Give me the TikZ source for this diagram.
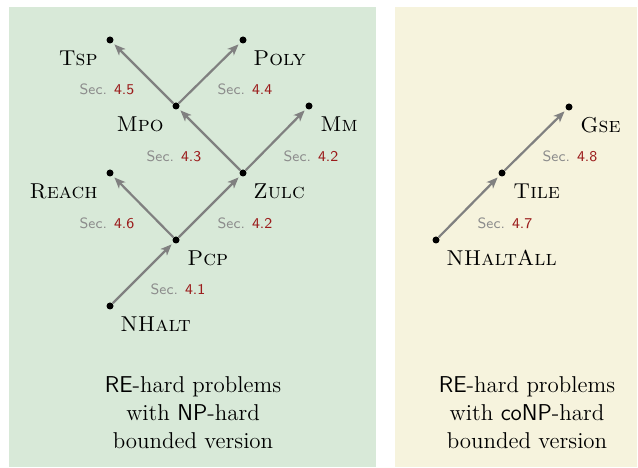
\documentclass[tikz,border=0pt]{standalone}
\usetikzlibrary{arrows.meta}
\definecolor{bgleft}{RGB}{216,233,216}
\definecolor{bgright}{RGB}{246,243,221}
\definecolor{secred}{RGB}{155,27,27}
\definecolor{secgray}{RGB}{140,140,140}
\definecolor{arrgray}{RGB}{128,128,128}
\begin{document}
\begin{tikzpicture}[x=0.5bp,y=-0.5bp,
  dot/.style={circle,fill=black,inner sep=0pt,minimum size=3.5bp},
  red/.style={draw=arrgray,line width=1.1bp,-{Stealth[length=5.5bp,width=4.5bp,inset=1.5bp]},shorten >=1.2bp},
  prob/.style={inner sep=0pt,font=\fontsize{10.8}{12}\selectfont},
  lprob/.style={prob,anchor=base east},
  rprob/.style={prob,anchor=base west},
  sec/.style={inner sep=0pt,anchor=base,font=\sffamily\fontsize{7.5}{9}\selectfont,text=secgray},
  caption/.style={inner sep=0pt,anchor=base,align=center,font=\fontsize{11.5}{14}\selectfont}]
\useasboundingbox (0,0) rectangle (638,468);
\fill[bgleft] (9,7) rectangle (376,467);
\fill[bgright] (395,7) rectangle (637,467);
% dots
\node[dot] (tsp) at (110,40) {};
\node[dot] (poly) at (243,40) {};
\node[dot] (mpo) at (176,106) {};
\node[dot] (mm) at (309,106) {};
\node[dot] (reach) at (110,173) {};
\node[dot] (zulc) at (243,173) {};
\node[dot] (pcp) at (176,240) {};
\node[dot] (nhalt) at (110,306) {};
\node[dot] (nhaltall) at (436,240) {};
\node[dot] (tile) at (502,173) {};
\node[dot] (gse) at (569,107) {};
% names
\node[lprob] (ltsp) at (98,66) {\textsc{Tsp}};
\node[rprob] (lpoly) at (253,66) {\textsc{Poly}};
\node[lprob] (lmpo) at (164,132) {\textsc{Mpo}};
\node[rprob] (lmm) at (320,132) {\textsc{Mm}};
\node[lprob] (lreach) at (98,199) {\textsc{Reach}};
\node[rprob] (lzulc) at (253,199) {\textsc{Zulc}};
\node[rprob] (lpcp) at (187,266) {\textsc{Pcp}};
\node[rprob] (lnhalt) at (120,332) {\textsc{NHalt}};
\node[rprob] (lnhaltall) at (446,266) {\textsc{NHaltAll}};
\node[rprob] (ltile) at (513,199) {\textsc{Tile}};
\node[rprob] (lgse) at (580,133) {\textsc{Gse}};
% arrows
\draw[red] (mpo) -- (tsp);
\draw[red] (mpo) -- (poly);
\draw[red] (zulc) -- (mpo);
\draw[red] (zulc) -- (mm);
\draw[red] (pcp) -- (reach);
\draw[red] (pcp) -- (zulc);
\draw[red] (nhalt) -- (pcp);
\draw[red] (nhaltall) -- (tile);
\draw[red] (tile) -- (gse);
% section labels
\node[sec] (s45) at (107,95) {Sec. \textcolor{secred}{4.5}};
\node[sec] (s44) at (245,95) {Sec. \textcolor{secred}{4.4}};
\node[sec] (s43) at (174,162) {Sec. \textcolor{secred}{4.3}};
\node[sec] (s42a) at (311,162) {Sec. \textcolor{secred}{4.2}};
\node[sec] (s46) at (107,229) {Sec. \textcolor{secred}{4.6}};
\node[sec] (s42b) at (245,229) {Sec. \textcolor{secred}{4.2}};
\node[sec] (s41) at (178,295) {Sec. \textcolor{secred}{4.1}};
\node[sec] (s47) at (505,229) {Sec. \textcolor{secred}{4.7}};
\node[sec] (s48) at (570,162) {Sec. \textcolor{secred}{4.8}};
% captions (base anchor = last line's baseline)
\node[caption] (capl) at (193,448) {\textsf{RE}-hard problems\\with \textsf{NP}-hard\\bounded version};
\node[caption] (capr) at (527,448) {\textsf{RE}-hard problems\\with \textsf{coNP}-hard\\bounded version};
\end{tikzpicture}
\end{document}
